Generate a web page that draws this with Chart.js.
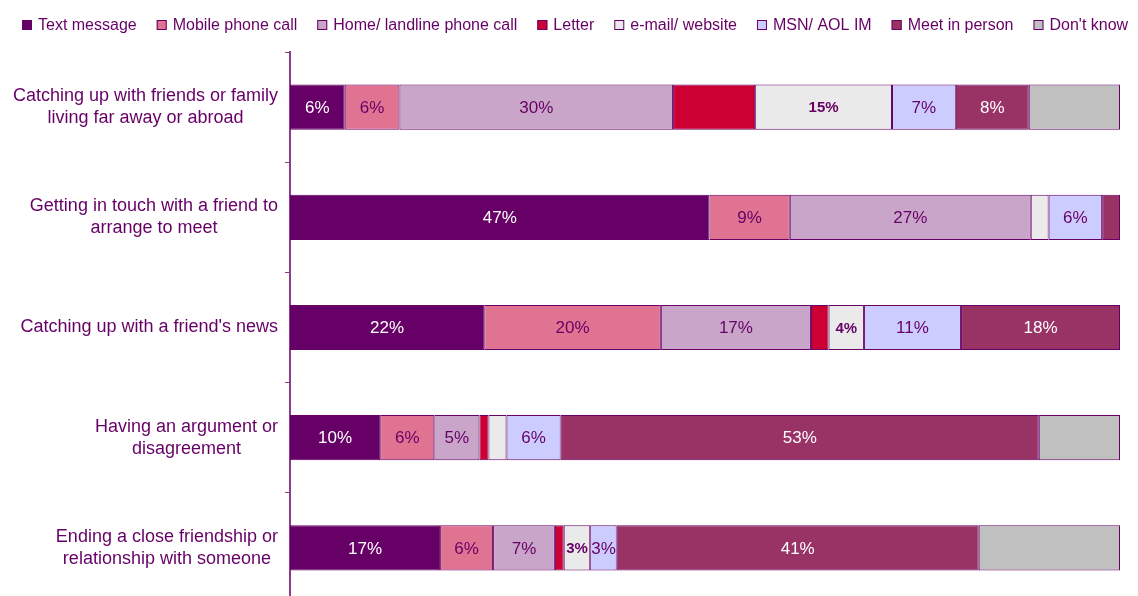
<!DOCTYPE html>
<html>
<head>
<meta charset="utf-8">
<script src="https://cdn.jsdelivr.net/npm/chart.js@4/dist/chart.umd.min.js"></script>
<style>
  html, body { margin: 0; padding: 0; background: #fff; overflow: hidden; }
  #wrap { position: relative; width: 1138px; height: 603px; }
</style>
</head>
<body>
<div id="wrap"><canvas id="commsChart"></canvas></div>
<script>
  // activities (multi-line labels)
  const categories = [
    ['Catching up with friends or family', 'living far away or abroad'],
    ['Getting in touch with a friend to', 'arrange to meet'],
    ["Catching up with a friend's news"],
    ['Having an argument or', 'disagreement'],
    ['Ending a close friendship or', 'relationship with someone']
  ];

  const seriesNames = ['Text message', 'Mobile phone call', 'Home/ landline phone call', 'Letter',
    'e-mail/ website', 'MSN/ AOL IM', 'Meet in person', "Don't know"];

  // % of respondents, one value per activity
  const textMessage  = [6, 47, 22, 10, 17];
  const mobileCall   = [6, 9, 20, 6, 6];
  const homeCall     = [30, 27, 17, 5, 7];
  const letter       = [9, 0, 2, 1, 1];
  const email        = [15, 2, 4, 2, 3];
  const msnIm        = [7, 6, 11, 6, 3];
  const meetInPerson = [8, 2, 18, 53, 41];
  const dontKnow     = [10, 0, 0, 9, 16];

  const series = [textMessage, mobileCall, homeCall, letter, email, msnIm, meetInPerson, dontKnow];

  const seriesColors = ['#660066', '#e07391', '#c9a6c9', '#cc0033', '#eaeaea', '#ccccff', '#993366', '#c0c0c0'];
  // null = no value label for that series
  const labelColors = ['#ffffff', '#660066', '#660066', null, '#660066', '#660066', '#ffffff', null];
  const boldLabels = [false, false, false, false, true, false, false, false];

  const purple = '#660066';
  const FONT = '"Liberation Sans", Arial, sans-serif';

  // each bar is stretched to full width (100% stacked)
  const rowTotals = categories.map((_, i) => series.reduce((s, arr) => s + arr[i], 0));

  const datasets = seriesNames.map((name, k) => ({
    label: name,
    data: series[k].map((v, i) => v ? v / rowTotals[i] * 100 : null),
    backgroundColor: seriesColors[k],
    borderColor: purple,
    borderWidth: 1,
    borderSkipped: false,
    barPercentage: 0.41,
    categoryPercentage: 1
  }));

  const topLegend = {
    id: 'topLegend',
    afterDraw(chart) {
      const ctx = chart.ctx;
      ctx.save();
      ctx.font = '16px ' + FONT;
      ctx.textBaseline = 'middle';
      ctx.textAlign = 'left';
      let x = 22;
      const y = 25;
      seriesNames.forEach((name, k) => {
        ctx.fillStyle = seriesColors[k];
        ctx.fillRect(x, y - 5, 10, 10);
        ctx.strokeStyle = purple;
        ctx.lineWidth = 1;
        ctx.strokeRect(x + 0.5, y - 4.5, 9, 9);
        ctx.fillStyle = purple;
        ctx.fillText(name, x + 16, y + 1);
        x += 16 + ctx.measureText(name).width + 20;
      });
      ctx.restore();
    }
  };

  const categoryLabels = {
    id: 'categoryLabels',
    afterDraw(chart) {
      const ctx = chart.ctx;
      const yScale = chart.scales.y;
      ctx.save();
      ctx.font = '18px ' + FONT;
      ctx.fillStyle = purple;
      ctx.textAlign = 'center';
      ctx.textBaseline = 'middle';
      categories.forEach((lines, i) => {
        const cy = yScale.getPixelForValue(i);
        const w = Math.max(...lines.map(l => ctx.measureText(l).width));
        const cx = yScale.right - 12 - w / 2;
        lines.forEach((line, j) => {
          ctx.fillText(line, cx, cy + (j - (lines.length - 1) / 2) * 22);
        });
      });
      ctx.restore();
    }
  };

  const barValues = {
    id: 'barValues',
    afterDatasetsDraw(chart) {
      const ctx = chart.ctx;
      ctx.save();
      ctx.textAlign = 'center';
      ctx.textBaseline = 'middle';
      chart.data.datasets.forEach((ds, k) => {
        if (!labelColors[k]) return;
        const meta = chart.getDatasetMeta(k);
        meta.data.forEach((bar, i) => {
          const v = series[k][i];
          if (!(v > 2)) return;
          ctx.font = boldLabels[k] ? 'bold 15px ' + FONT : '17px ' + FONT;
          ctx.fillStyle = labelColors[k];
          ctx.fillText(v + '%', (bar.x + bar.base) / 2, bar.y + 1);
        });
      });
      ctx.restore();
    }
  };

  new Chart(document.getElementById('commsChart'), {
    type: 'bar',
    data: {
      labels: categories,
      datasets
    },
    options: {
      indexAxis: 'y',
      responsive: true,
      maintainAspectRatio: false,
      animation: false,
      layout: {
        padding: { top: 52, right: 18, bottom: 0, left: 0 }
      },
      plugins: {
        legend: { display: false },
        tooltip: { enabled: false }
      },
      scales: {
        x: {
          stacked: true,
          min: 0,
          max: 100,
          display: false
        },
        y: {
          stacked: true,
          ticks: { display: false },
          grid: {
            offset: true,
            drawOnChartArea: false,
            drawTicks: true,
            tickLength: 5,
            color: '#8b3d8b'
          },
          border: { display: true, color: '#8b3d8b', width: 2 },
          afterFit: scale => { scale.width = 290; }
        }
      }
    },
    plugins: [barValues, categoryLabels, topLegend]
  });
</script>
</body>
</html>
